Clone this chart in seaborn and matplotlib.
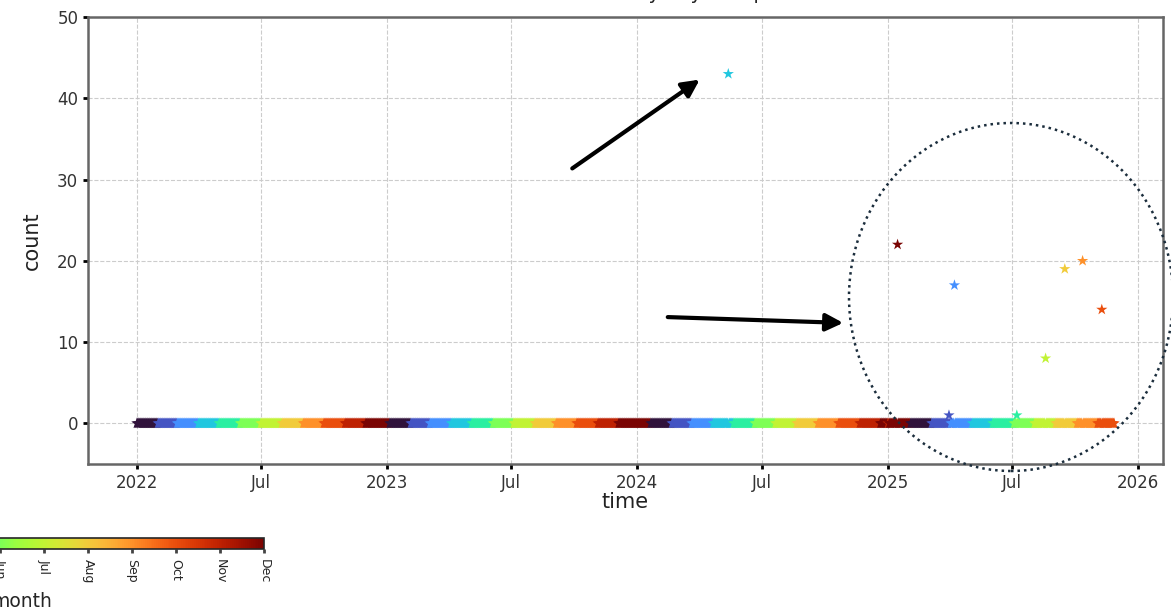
import numpy as np
import pandas as pd
import matplotlib
matplotlib.use("Agg")
import matplotlib.pyplot as plt
import matplotlib.dates as mdates
import seaborn as sns
from matplotlib.patches import Ellipse
from matplotlib.transforms import IdentityTransform
from matplotlib.ticker import FuncFormatter, MultipleLocator
from matplotlib.cm import ScalarMappable
from matplotlib.colors import Normalize

# ---- data ----
start_date = "2022-01-01"
end_date = "2025-11-27"
# lag (days) of the month colouring behind the calendar, read per year from the band
band_years = [2022, 2023, 2024, 2025]
band_lag_days = [0, 4, 20, 33]
spike_dates = ["2024-05-13", "2025-01-15", "2025-03-31", "2025-04-08", "2025-07-08",
               "2025-08-19", "2025-09-16", "2025-10-12", "2025-11-09"]
spike_counts = [43, 22, 1, 17, 1, 8, 19, 20, 14]
spike_months = [4, 12, 2, 3, 5, 7, 8, 9, 10]
month_labels = ["Jan", "Feb", "Mar", "Apr", "May", "Jun",
                "Jul", "Aug", "Sep", "Oct", "Nov", "Dec"]
title_text = "Counts of events by day - output"

days = pd.date_range(start_date, end_date, freq="D")
lag_map = dict(zip(band_years, band_lag_days))
lags = pd.to_timedelta([lag_map[y] for y in days.year], unit="D")
base = pd.DataFrame({"time": days, "count": 0, "month": (days - lags).month})
spikes = pd.DataFrame({"time": pd.to_datetime(spike_dates), "count": spike_counts,
                       "month": spike_months})
base = base[~base["time"].isin(spikes["time"])]
df = pd.concat([base, spikes], ignore_index=True)

# ---- figure ----
sns.set_style("ticks")
W, H = 1171, 612
fig = plt.figure(figsize=(W / 100, H / 100), dpi=100)
ax = fig.add_axes([88 / W, 1 - 464 / H, (1163 - 88) / W, (464 - 17) / H])

sns.scatterplot(data=df, x="time", y="count", hue="month", palette="turbo",
                hue_norm=(1, 12), marker="*", s=72, linewidth=0, legend=False, ax=ax)

ax.set_ylim(-5, 50)
ax.yaxis.set_major_locator(MultipleLocator(10))
ax.xaxis.set_major_locator(mdates.MonthLocator(bymonth=[1, 7]))


def fmt(x, pos):
    d = mdates.num2date(x)
    return d.strftime("%Y") if d.month == 1 else d.strftime("%b")


ax.xaxis.set_major_formatter(FuncFormatter(fmt))
ax.set_axisbelow(True)
ax.grid(True, linestyle="--", color="#cccccc", linewidth=0.8)
for sp in ax.spines.values():
    sp.set_color("#666666")
    sp.set_linewidth(1.8)
ax.tick_params(length=3.5, width=2, color="black", labelsize=12, labelcolor="#333333")
ax.set_xlabel("time", fontsize=15, labelpad=0, color="#222222")
ax.set_ylabel("count", fontsize=15, labelpad=11, color="#222222")
ax.set_title(title_text, fontsize=14, pad=13)

# ---- colorbar ----
cax = fig.add_axes([-220 / W, 1 - 549 / H, 484 / W, 11 / H])
sm = ScalarMappable(norm=Normalize(1, 12), cmap="turbo")
cb = fig.colorbar(sm, cax=cax, orientation="horizontal", ticks=list(range(1, 13)))
cb.set_ticklabels(month_labels)
cax.tick_params(labelsize=9, rotation=-90, length=3, width=2, color="#444444", pad=4)
cb.outline.set_linewidth(1.2)
cb.set_label("month", fontsize=13.5, labelpad=5)

# ---- annotations ----
ann_kw = dict(xycoords="figure pixels", textcoords="figure pixels",
              arrowprops=dict(arrowstyle="-|>", lw=3, color="black", mutation_scale=26))
ax.annotate("", xy=(702, H - 78), xytext=(570, H - 170), **ann_kw)
ax.annotate("", xy=(846, H - 323), xytext=(665, H - 317), **ann_kw)
ell = Ellipse((1011, H - 297), 324, 348, transform=IdentityTransform(), fill=False,
              linestyle=(0, (1, 1.6)), linewidth=1.8, edgecolor="#1b2d3c", clip_on=False)
fig.add_artist(ell)

fig.savefig("out.png", dpi=100)
